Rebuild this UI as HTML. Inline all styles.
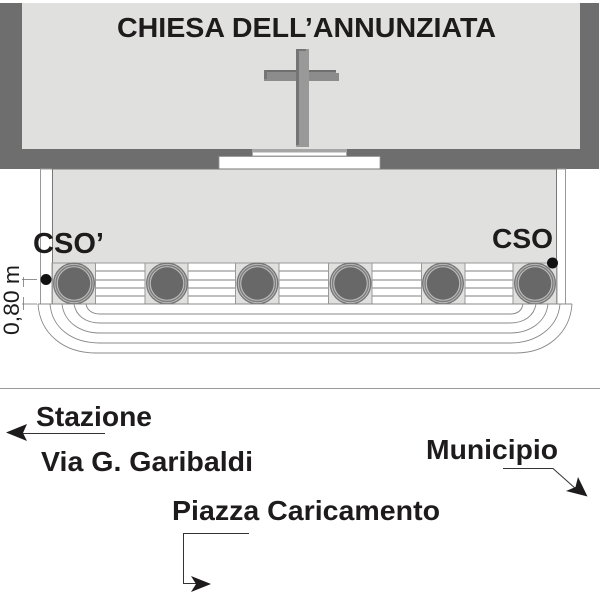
<!DOCTYPE html>
<html>
<head>
<meta charset="utf-8">
<style>
html,body{margin:0;padding:0;background:#fff;}
svg{display:block;}
text{font-family:"Liberation Sans",sans-serif;font-weight:bold;fill:#1d1b1b;}
</style>
</head>
<body>
<svg width="600" height="593" viewBox="0 0 600 593" xmlns="http://www.w3.org/2000/svg">
<rect width="600" height="593" fill="#fff"/>
<!-- church -->
<rect x="0" y="3" width="599" height="166" fill="#6f6e6e"/>
<rect x="22" y="3" width="558" height="146" fill="#e0e0df"/>
<!-- altar -->
<rect x="252" y="149" width="95" height="7" fill="#a5a5a5"/>
<rect x="253" y="152.500" width="93" height="3" fill="#fff"/>
<rect x="219" y="156.500" width="161" height="18" fill="#fff" stroke="#999" stroke-width="0.8"/>
<!-- cross -->
<rect x="264" y="73" width="75" height="8" fill="#8c8c8c"/>
<rect x="264" y="70" width="72" height="2" fill="#6f6f6f"/>
<rect x="264" y="70" width="3" height="9" fill="#757575"/>
<rect x="267" y="72" width="69" height="2" fill="#8c8c8c"/>
<rect x="296" y="49" width="13" height="98" fill="#999"/>
<rect x="296" y="49" width="10" height="2" fill="#757575"/>
<rect x="296" y="49" width="3" height="96" fill="#757575"/>
<!-- forecourt -->
<rect x="40.500" y="169" width="525" height="135" fill="#fff" stroke="#999" stroke-width="1"/>
<rect x="52.500" y="169" width="504" height="135" fill="#e0e0df" stroke="#777" stroke-width="1"/>
<!-- steps between columns -->
<rect x="52" y="263" width="505" height="41" fill="#fff" stroke="#999" stroke-width="1"/>
<g stroke="#999" stroke-width="1.300">
<line x1="52" y1="271" x2="557" y2="271"/>
<line x1="52" y1="280" x2="557" y2="280"/>
<line x1="52" y1="288" x2="557" y2="288"/>
<line x1="52" y1="296" x2="557" y2="296"/>
</g>
<!-- column squares -->
<g fill="#e0e0df" stroke="#999" stroke-width="1">
<rect x="52.500" y="263" width="43" height="41"/>
<rect x="145" y="263" width="43" height="41"/>
<rect x="235.500" y="263" width="43.500" height="41"/>
<rect x="328.500" y="263" width="43.500" height="41"/>
<rect x="421.500" y="263" width="43.500" height="41"/>
<rect x="513" y="263" width="43.500" height="41"/>
</g>
<!-- columns -->
<g fill="#bdbdbd" stroke="#777" stroke-width="1.400">
<circle cx="74" cy="283.500" r="20.300"/>
<circle cx="167" cy="283.500" r="20.300"/>
<circle cx="257.500" cy="283.500" r="20.300"/>
<circle cx="350.500" cy="283.500" r="20.300"/>
<circle cx="443" cy="283.500" r="20.300"/>
<circle cx="535" cy="283.500" r="20.300"/>
</g>
<g fill="none" stroke="#7d7d7d" stroke-width="1.400">
<circle cx="74" cy="283.500" r="18"/>
<circle cx="167" cy="283.500" r="18"/>
<circle cx="257.500" cy="283.500" r="18"/>
<circle cx="350.500" cy="283.500" r="18"/>
<circle cx="443" cy="283.500" r="18"/>
<circle cx="535" cy="283.500" r="18"/>
</g>
<g fill="#696868">
<circle cx="74" cy="283.500" r="16.200"/>
<circle cx="167" cy="283.500" r="16.200"/>
<circle cx="257.500" cy="283.500" r="16.200"/>
<circle cx="350.500" cy="283.500" r="16.200"/>
<circle cx="443" cy="283.500" r="16.200"/>
<circle cx="535" cy="283.500" r="16.200"/>
</g>
<!-- curved stairs -->
<g fill="none" stroke="#888" stroke-width="0.9">
<line x1="38" y1="304" x2="572" y2="304"/>
<path d="M86 304C87 310 92 314 100 314H510C518 314 522 310 523 304"/>
<path d="M74 304C76 316 86 323 100 323H510C524 323 534 316 536 304"/>
<path d="M62 304C64 322 80 333 100 333H510C530 333 546 322 548 304"/>
<path d="M50 304C52 328 72 343 100 343H510C536 343 558 328 560 304"/>
<path d="M38 304C40 334 64 353 96 353H516C546 353 570 334 572 304"/>
</g>
<!-- dimension -->
<g stroke="#777" stroke-width="0.8">
<line x1="22" y1="279.500" x2="37" y2="279.500"/>
<line x1="22" y1="304" x2="37" y2="304"/>
<line x1="23.500" y1="277" x2="23.500" y2="287"/>
<line x1="23.500" y1="297" x2="23.500" y2="310"/>
</g>
<text transform="translate(19 335) rotate(-90)" font-size="22" style="font-weight:normal" textLength="70" lengthAdjust="spacingAndGlyphs">0,80 m</text>
<!-- dots -->
<circle cx="46" cy="279.500" r="5.500" fill="#111"/>
<circle cx="552.500" cy="263" r="5.500" fill="#111"/>
<!-- labels -->
<text x="117" y="37" font-size="28" textLength="379" lengthAdjust="spacingAndGlyphs">CHIESA DELL’ANNUNZIATA</text>
<text x="33" y="253" font-size="28.500" textLength="71" lengthAdjust="spacingAndGlyphs">CSO’</text>
<text x="492" y="248" font-size="28" textLength="61" lengthAdjust="spacingAndGlyphs">CSO</text>
<text x="36" y="426" font-size="27.500" textLength="116" lengthAdjust="spacingAndGlyphs">Stazione</text>
<text x="41" y="471" font-size="27.500" textLength="212" lengthAdjust="spacingAndGlyphs">Via G. Garibaldi</text>
<text x="172" y="520" font-size="27.500" textLength="268" lengthAdjust="spacingAndGlyphs">Piazza Caricamento</text>
<text x="426" y="459" font-size="27.500" textLength="132" lengthAdjust="spacingAndGlyphs">Municipio</text>
<!-- divider -->
<line x1="0" y1="388.500" x2="600" y2="388.500" stroke="#999" stroke-width="1"/>
<!-- arrows -->
<g fill="none" stroke="#333" stroke-width="1">
<path d="M105 433.500H22"/>
<path d="M249 533.500H183.500V583.500H196"/>
<path d="M503 468.500H553L576 489"/>
</g>
<g fill="#1d1b1b">
<polygon points="6,432.500 27,424 23,433 27,441"/>
<polygon points="211,584 191,576 196,584 191,592"/>
<polygon points="587.500,496.500 578,477 575.500,487 566,491"/>
</g>
</svg>
</body>
</html>
